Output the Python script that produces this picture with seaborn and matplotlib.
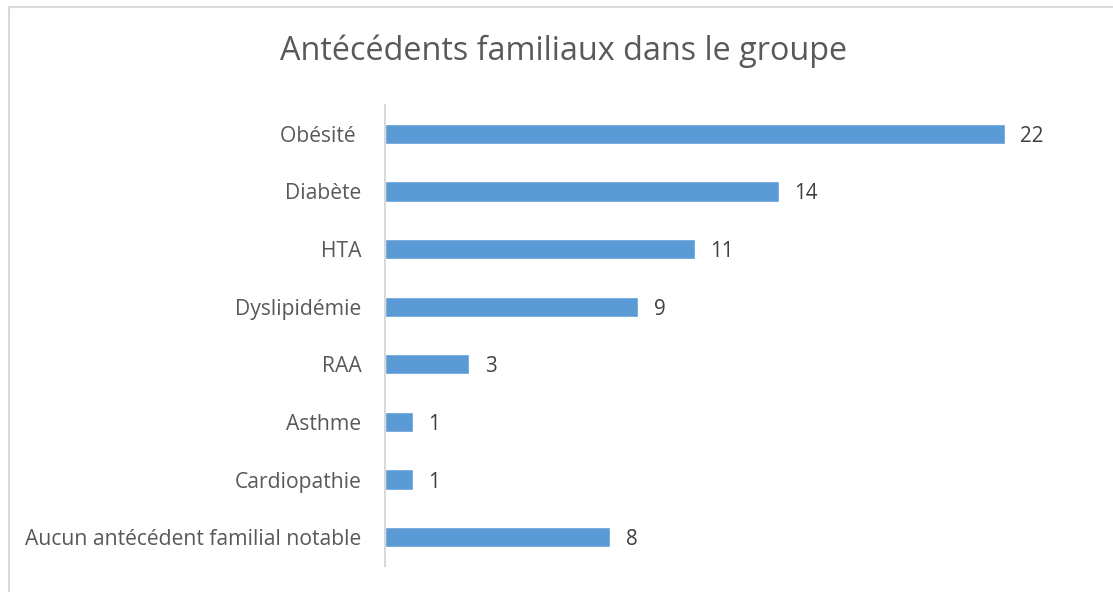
import pandas as pd
import matplotlib
matplotlib.use("Agg")
import matplotlib.pyplot as plt
import seaborn as sns
from matplotlib.patches import Rectangle

# data
categories = ["Obésité ", "Diabète", "HTA", "Dyslipidémie", "RAA", "Asthme",
              "Cardiopathie", "Aucun antécédent familial notable"]
counts = [22, 14, 11, 9, 3, 1, 1, 8]

df = pd.DataFrame({"Antecedent": categories, "Effectif": counts})

sns.set_style("white")
plt.rcParams["font.family"] = ["Open Sans", "DejaVu Sans"]

fig = plt.figure(figsize=(11.13, 5.92), dpi=100)
ax = fig.add_axes([385 / 1113, 26 / 592, 704 / 1113, 461 / 592])

sns.barplot(data=df, x="Effectif", y="Antecedent", color="#5B9BD5",
            width=0.35, saturation=1, ax=ax)

labels = ax.bar_label(ax.containers[0], padding=11, fontsize=14.8, color="#404040")
for t in labels:
    t.set_va("center_baseline")

ax.set_xlim(0, 25)
ax.set_ylim(7.5, -0.5)
ax.set_xlabel("")
ax.set_ylabel("")
ax.set_xticks([])
ax.tick_params(axis="y", length=0, pad=17, labelsize=15.2, labelcolor="#595959")
for side in ["top", "right", "bottom"]:
    ax.spines[side].set_visible(False)
ax.spines["left"].set_color("#d9d9d9")
ax.spines["left"].set_linewidth(1.5)

fig.text(564 / 1113, 1 - 51 / 592, "Antécédents familiaux dans le groupe",
         ha="center", va="center", fontsize=23.3, color="#595959")

# light chart border (runs off the right and bottom of the image)
fig.patches.append(Rectangle((8.5 / 1113, -0.1), 1.2, 1.1 - 7 / 592,
                             transform=fig.transFigure, fill=False,
                             edgecolor="#d9d9d9", linewidth=1.5))

fig.savefig("out.png", dpi=100)
